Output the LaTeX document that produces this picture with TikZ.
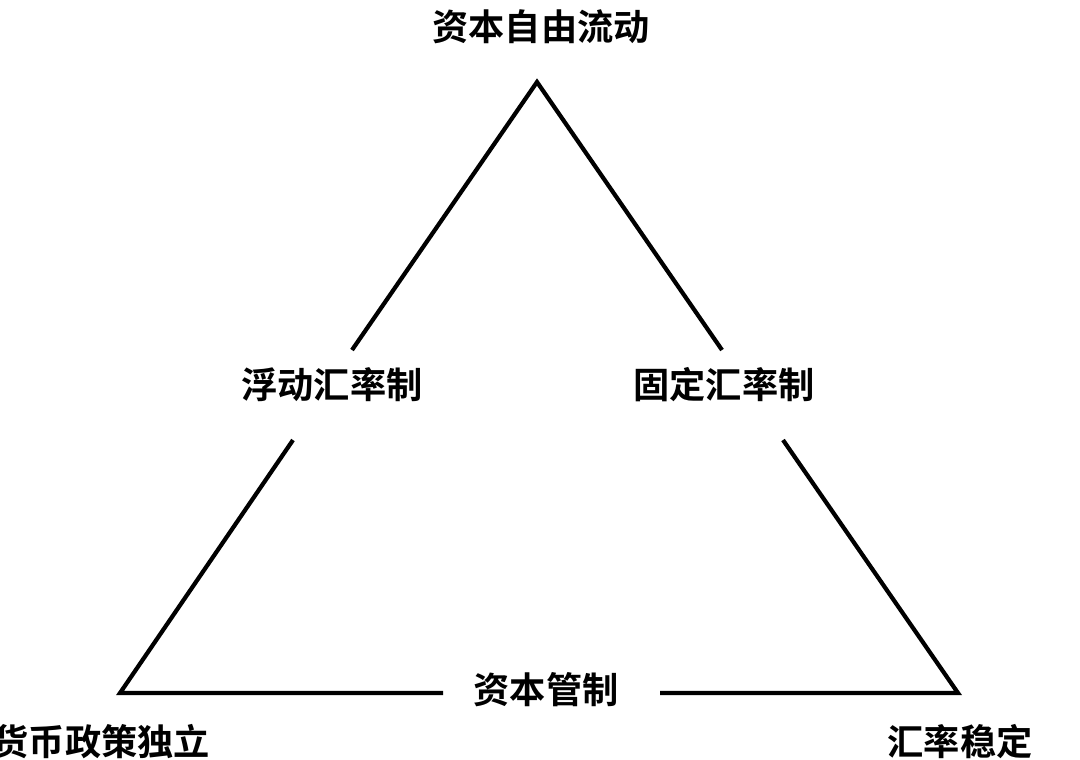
\documentclass[tikz,border=0pt]{standalone}
\usepackage{fontspec}
\newfontfamily\cjk{Noto Sans CJK SC Bold}
\begin{document}
\begin{tikzpicture}[x=0.01cm,y=-0.01cm,
  edge/.style={line width=1.2pt,black},
  lbl/.style={font=\cjk\fontsize{10.3}{12}\selectfont,inner sep=0pt}]
\useasboundingbox (0,0) rectangle (1080,759);
\coordinate (A) at (537,82);
\coordinate (L) at (120,693);
\coordinate (R) at (958,693);
\coordinate (l1) at (352,350); \coordinate (l2) at (293,440);
\coordinate (r1) at (722,350); \coordinate (r2) at (783,440);
\coordinate (b1) at (443,693); \coordinate (b2) at (660,693);
\draw[edge,line join=miter] (l1) -- (A) -- (r1);
\draw[edge,line join=miter] (l2) -- (L) -- (b1);
\draw[edge,line join=miter] (b2) -- (R) -- (r2);
\node[lbl] (top) at (541,27) {资本自由流动};
\node[lbl] (fl) at (332,385) {浮动汇率制};
\node[lbl] (fx) at (724,385) {固定汇率制};
\node[lbl] (cc) at (546,690) {资本管制};
\node[lbl,anchor=west] (mp) at (-8,742) {货币政策独立};
\node[lbl] (er) at (960,742) {汇率稳定};
\end{tikzpicture}
\end{document}
